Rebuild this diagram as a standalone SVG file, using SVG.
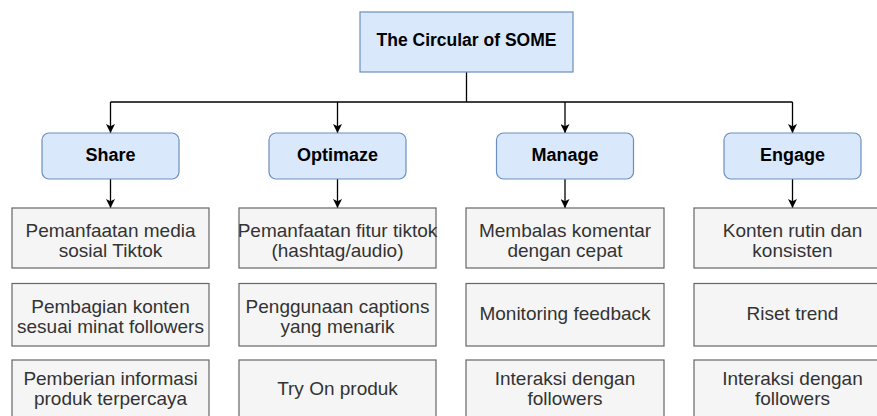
<svg xmlns="http://www.w3.org/2000/svg" width="877" height="416" viewBox="0 0 877 416">
<defs>
<marker id="ah" viewBox="0 0 10 10" refX="10" refY="5" markerWidth="9" markerHeight="9" markerUnits="userSpaceOnUse" orient="auto">
<path d="M0,0 L10,5 L0,10 L2.5,5 Z" fill="#000"/>
</marker>
<style>
.blue{fill:#dae8fc;stroke:#6c8ebf;stroke-width:1.2}
.grey{fill:#f5f5f5;stroke:#666;stroke-width:1.2}
.h{font-family:"Liberation Sans",Arial,sans-serif;font-weight:bold;font-size:18px;fill:#000;text-anchor:middle}
.ht{font-size:17.5px}
.t{font-family:"Liberation Sans",Arial,sans-serif;font-size:19px;fill:#333;text-anchor:middle}
.c{fill:none;stroke:#000;stroke-width:1.3}
</style>
</defs>
<rect width="877" height="416" fill="#fff"/>
<g id="connectors">
<path class="c" d="M466.5,72 V102"/>
<path class="c" d="M110.5,102 H792.5"/>
<path class="c" d="M110.5,102 V133" marker-end="url(#ah)"/>
<path class="c" d="M337.5,102 V133" marker-end="url(#ah)"/>
<path class="c" d="M565,102 V133" marker-end="url(#ah)"/>
<path class="c" d="M792.5,102 V133" marker-end="url(#ah)"/>
<path class="c" d="M110.5,179 V208" marker-end="url(#ah)"/>
<path class="c" d="M337.5,179 V208" marker-end="url(#ah)"/>
<path class="c" d="M565,179 V208" marker-end="url(#ah)"/>
<path class="c" d="M792.5,179 V208" marker-end="url(#ah)"/>
</g>
<g id="root"><rect class="blue" x="360" y="12" width="213" height="60"/><text class="h ht" x="466.5" y="46">The Circular of SOME</text></g>
<g id="share"><rect class="blue" x="42" y="133" width="137" height="46" rx="7"/><text class="h" x="110.5" y="161">Share</text></g>
<g id="optimaze"><rect class="blue" x="269" y="133" width="137" height="46" rx="7"/><text class="h" x="337.5" y="161">Optimaze</text></g>
<g id="manage"><rect class="blue" x="496.5" y="133" width="137" height="46" rx="7"/><text class="h" x="565" y="161">Manage</text></g>
<g id="engage"><rect class="blue" x="724" y="133" width="137" height="46" rx="7"/><text class="h" x="792.5" y="161">Engage</text></g>

<g id="s1"><rect class="grey" x="12" y="208" width="197" height="60"/><text class="t" x="110.5" y="237">Pemanfaatan media</text><text class="t" x="110.5" y="257">sosial Tiktok</text></g>
<g id="s2"><rect class="grey" x="12" y="283.5" width="197" height="62.5"/><text class="t" x="110.5" y="313">Pembagian konten</text><text class="t" x="110.5" y="333">sesuai minat followers</text></g>
<g id="s3"><rect class="grey" x="12" y="360" width="197" height="62"/><text class="t" x="110.5" y="385">Pemberian informasi</text><text class="t" x="110.5" y="405">produk terpercaya</text></g>

<g id="o1"><rect class="grey" x="239" y="208" width="197" height="60"/><text class="t" x="337.5" y="237">Pemanfaatan fitur tiktok</text><text class="t" x="337.5" y="257">(hashtag/audio)</text></g>
<g id="o2"><rect class="grey" x="239" y="283.5" width="197" height="62.5"/><text class="t" x="337.5" y="313">Penggunaan captions</text><text class="t" x="337.5" y="333">yang menarik</text></g>
<g id="o3"><rect class="grey" x="239" y="360" width="197" height="62"/><text class="t" x="337.5" y="395">Try On produk</text></g>

<g id="m1"><rect class="grey" x="466" y="208" width="198" height="60"/><text class="t" x="565" y="237">Membalas komentar</text><text class="t" x="565" y="257">dengan cepat</text></g>
<g id="m2"><rect class="grey" x="466" y="283.5" width="198" height="62.5"/><text class="t" x="565" y="320">Monitoring feedback</text></g>
<g id="m3"><rect class="grey" x="466" y="360" width="198" height="62"/><text class="t" x="565" y="385">Interaksi dengan</text><text class="t" x="565" y="405">followers</text></g>

<g id="e1"><rect class="grey" x="694" y="208" width="197" height="60"/><text class="t" x="792.5" y="237">Konten rutin dan</text><text class="t" x="792.5" y="257">konsisten</text></g>
<g id="e2"><rect class="grey" x="694" y="283.5" width="197" height="62.5"/><text class="t" x="792.5" y="320">Riset trend</text></g>
<g id="e3"><rect class="grey" x="694" y="360" width="197" height="62"/><text class="t" x="792.5" y="385">Interaksi dengan</text><text class="t" x="792.5" y="405">followers</text></g>
</svg>
